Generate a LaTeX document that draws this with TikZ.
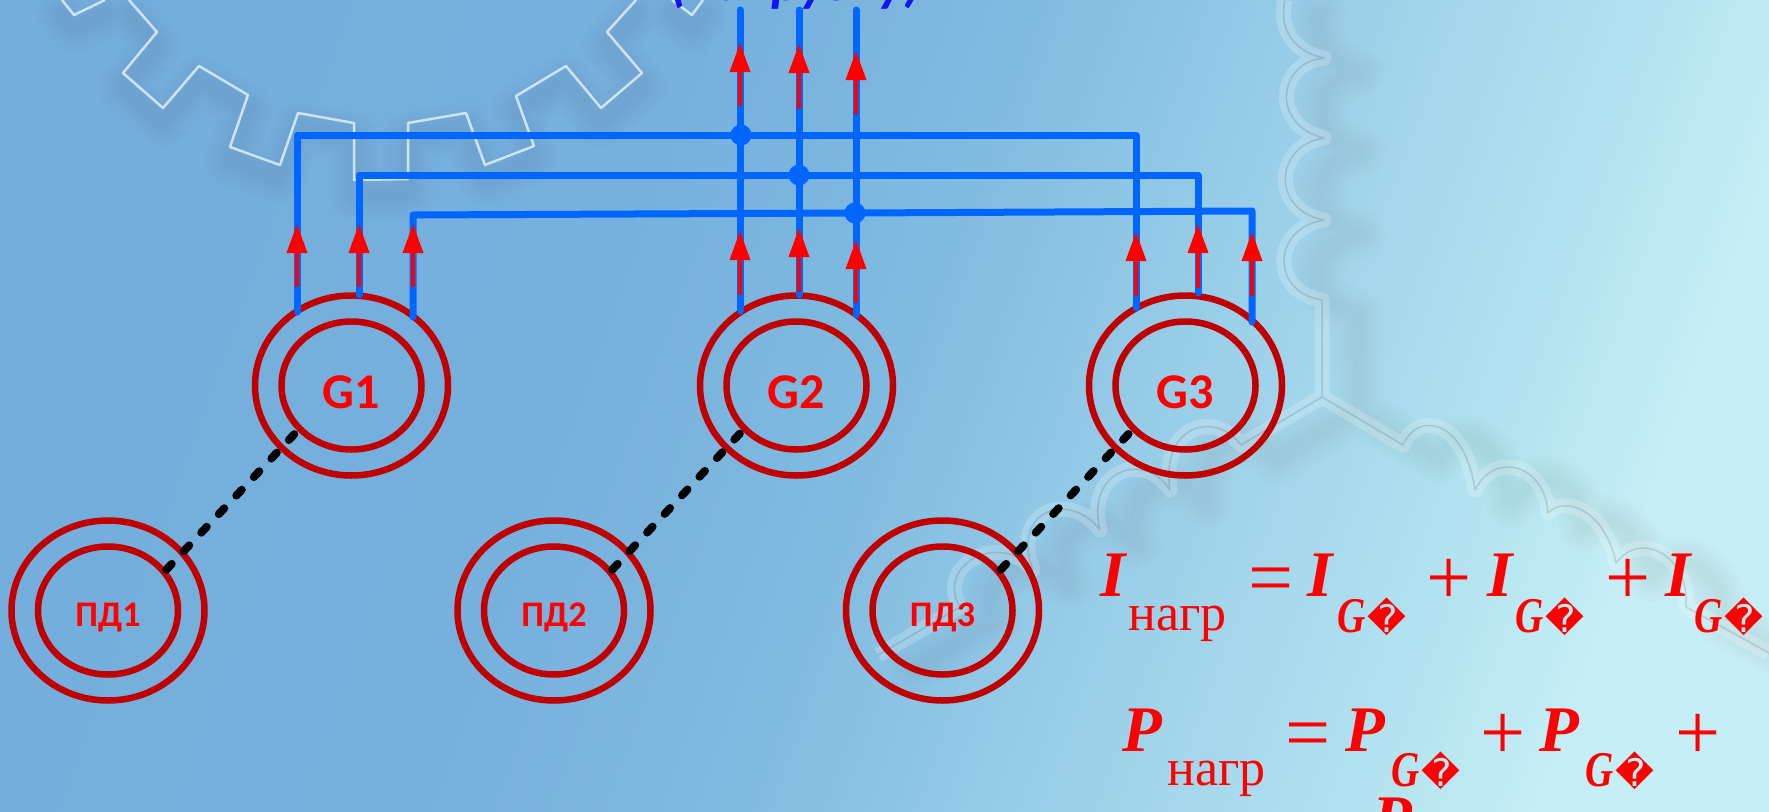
\documentclass[tikz,border=0pt]{standalone}
\usepackage{fontspec}
\setmainfont{Carlito}
\newfontfamily\serfont{Liberation Serif}
\newfontfamily\repfont{DejaVu Sans}
\usetikzlibrary{shapes.geometric,arrows.meta}
\definecolor{bgA}{RGB}{116,174,220}
\definecolor{bgB}{RGB}{118,176,221}
\definecolor{bgC}{RGB}{128,187,224}
\definecolor{bgD}{RGB}{158,210,234}
\definecolor{bgE}{RGB}{180,228,240}
\definecolor{bgF}{RGB}{198,238,246}
\definecolor{ringred}{RGB}{192,0,0}
\definecolor{wireblue}{RGB}{0,102,255}
\definecolor{titleblue}{RGB}{20,20,240}
\pgfdeclareverticalshading{bgfade}{100bp}{color(0bp)=(bgA);color(25bp)=(bgA);color(40bp)=(bgB);color(50bp)=(bgC);color(61bp)=(bgD);color(70bp)=(bgE);color(75bp)=(bgF);color(100bp)=(bgF)}
\tikzset{
  ringout/.style={draw=ringred,ellipse,line width=6.5pt,inner sep=0pt,minimum width=193pt,minimum height=180pt},
  ringin/.style={draw=ringred,ellipse,line width=6.5pt,inner sep=0pt,minimum width=140pt,minimum height=128pt},
  genlabel/.style={text=red,font=\bfseries\fontsize{50}{50}\selectfont,inner sep=0pt},
  drvlabel/.style={text=red,font=\bfseries\fontsize{36}{36}\selectfont,inner sep=0pt},
  shaftlink/.style={draw=black,line width=8pt,line cap=round,dash pattern=on 8pt off 17.5pt},
  wire/.style={draw=wireblue,line width=7pt,line cap=round,line join=round},
  joint/.style={circle,fill=wireblue,inner sep=0pt,minimum size=21pt},
  flow/.style={draw=red,line width=3.5pt,-{Triangle[width=20pt,length=29pt]}},
  sym/.style={text=red,anchor=base west,inner sep=0pt},
  bigvar/.style={sym,font=\serfont\bfseries\itshape\fontsize{65}{65}\selectfont},
  oper/.style={sym,font=\serfont\fontsize{80}{80}\selectfont},
  lowtext/.style={sym,font=\serfont\fontsize{52}{52}\selectfont},
  lowgen/.style={sym,font=\serfont\bfseries\itshape\fontsize{50}{50}\selectfont},
  glow/.style={black!60,line join=round,line cap=round},
}
\newcommand{\gensub}{\scalebox{.78}[1]{G}\hspace{2pt}{\repfont\upshape\mdseries\fontsize{38}{38}\selectfont\symbol{"FFFD}}}
\newcommand{\gearline}{(62,0) -- (74,15) -- (105,0) (129,0) -- (157,32) -- (123,73) -- (163,108) -- (199,66) -- (248,95) -- (230,147) -- (280,165) -- (298,113) -- (354,123) -- (354,180) -- (408,179) -- (408,123) -- (466,113) -- (485,165) -- (534,146) -- (516,96) -- (566,66) -- (601,108) -- (642,73) -- (607,32) -- (636,0) (672,0) -- (692,15) -- (703,0)}
\newcommand{\coilline}{(1285,0) .. controls (1278,30) and (1295,52) .. (1324,58) .. controls (1278,62) and (1270,125) .. (1324,138) .. controls (1275,145) and (1270,210) .. (1324,220) .. controls (1272,228) and (1270,292) .. (1322,300) -- (1322,397) -- (1403,445) .. controls (1418,410) and (1465,420) .. (1475,490) .. controls (1495,450) and (1545,465) .. (1548,513) .. controls (1565,495) and (1605,510) .. (1616,563) .. controls (1640,530) and (1690,555) .. (1686,607) -- (1769,653) (1322,397) -- (1241,445) .. controls (1215,410) and (1160,425) .. (1170,490) .. controls (1145,450) and (1085,470) .. (1100,530) .. controls (1070,490) and (1010,510) .. (1033,570) .. controls (1000,530) and (935,565) .. (960,607) -- (878,655)}
\begin{document}
\begin{tikzpicture}[x=1pt,y=-1pt]
    \clip (0,0) rectangle (1769,811);
    % Fondo
    \shade[shading=bgfade,shading angle=250] (0,0) rectangle (1769,811);
    % Ingranaggio
    \foreach \w in {50,42,34,26,18,10}
        \draw[glow,opacity=.016,line width=\w pt,shift={(0,14)}] \gearline;
    \draw[white!60!bgC,line width=2.5pt,line join=round] \gearline;
    % Bobine
    \foreach \w in {50,42,34,26,18,10}
        \draw[glow,opacity=.016,line width=\w pt,shift={(36,14)}] \coilline;
    \draw[white,opacity=.2,line width=15pt,line join=round] \coilline;
    \draw[black!70!bgA,opacity=.16,line width=1.5pt,line join=round] \coilline;
    % Generatori
    \foreach \n/\x in {1/351.5,2/796.5,3/1185.5} {
        \node[ringout] (G\n) at (\x,385.5) {};
        \node[ringin] (G\n in) at (G\n) {};
        \node[genlabel] (G\n txt) at ([yshift=-7pt]G\n) {G\n};
    }
    % Motori
    \foreach \n/\x in {1/108,2/554,3/942.5} {
        \node[ringout] (PD\n) at (\x,610.5) {};
        \node[ringin] (PD\n in) at (PD\n) {};
        \node[drvlabel] (PD\n txt) at ([yshift=-7pt]PD\n) {ПД\n};
        \draw[shaftlink] (PD\n in.35) -- (G\n in.220);
    }
    % Uscite
    \foreach \n/\x/\a/\b in {1/297/312/740,2/359/295/799,3/413/317/856} {
        \coordinate (g1w\n) at (\x,\a);
        \coordinate (top\n) at (\b,10);
    }
    \coordinate (g2w1) at (740,311);
    \coordinate (g2w2) at (799,295);
    \coordinate (g2w3) at (856,315);
    \coordinate (g3w1) at (1136,308);
    \coordinate (g3w2) at (1198,293);
    \coordinate (g3w3) at (1252,322);
    \node[joint] (J1) at (741,135) {};
    \node[joint] (J2) at (799,175) {};
    \node[joint] (J3) at (855,213) {};
    \coordinate (c3l) at (413,215);
    \coordinate (c3r) at (1252,211);
    \draw[wire] (g1w1) |- (J1.center) -| (g3w1);
    \draw[wire] (g1w2) |- (J2.center) -| (g3w2);
    \draw[wire] (g1w3) -- (c3l) -- (J3.center) -- (c3r) -- (g3w3);
    \foreach \n in {1,2,3}
        \draw[wire] (top\n) -- (g2w\n);
    % Frecce
    \foreach \x/\a/\b in {740/106/43,799/109/44,856/114/51,297/287/224,359/287/224,413/287/224,740/295/231,799/292/228,856/303/240,1136/296/232,1198/288/224,1252/296/232} {
        \coordinate (fa) at (\x,\a);
        \coordinate (fb) at (\x,\b);
        \draw[flow] (fa) -- (fb);
    }
    % Titolo
    \node[anchor=base,text=titleblue,inner sep=0pt,font=\bfseries\itshape\fontsize{56}{56}\selectfont] (load) at (796,1) {(нагрузку)};
    % Formule
    \node[bigvar] (i0) at (1100,596) {I};
    \node[lowtext] (i0s) at (1128,630) {нагр};
    \node[oper] (ieq) at (1248,604) {=};
    \node[bigvar] (i1) at (1307,596) {I};
    \node[lowgen] (i1s) at (1337,632) {\gensub};
    \node[oper] (ip1) at (1426,604) {+};
    \node[bigvar] (i2) at (1487,596) {I};
    \node[lowgen] (i2s) at (1515,632) {\gensub};
    \node[oper] (ip2) at (1605,604) {+};
    \node[bigvar] (i3) at (1665,596) {I};
    \node[lowgen] (i3s) at (1694,632) {\gensub};
    \node[bigvar] (p0) at (1122,751) {P};
    \node[lowtext] (p0s) at (1167,785) {нагр};
    \node[oper] (peq) at (1285,759) {=};
    \node[bigvar] (p1) at (1345,751) {P};
    \node[lowgen] (p1s) at (1391,786) {\gensub};
    \node[oper] (pp1) at (1480,759) {+};
    \node[bigvar] (p2) at (1539,751) {P};
    \node[lowgen] (p2s) at (1585,786) {\gensub};
    \node[oper] (pp2) at (1675,759) {+};
    \node[bigvar] (p3) at (1372,840) {P};
\end{tikzpicture}
\end{document}
